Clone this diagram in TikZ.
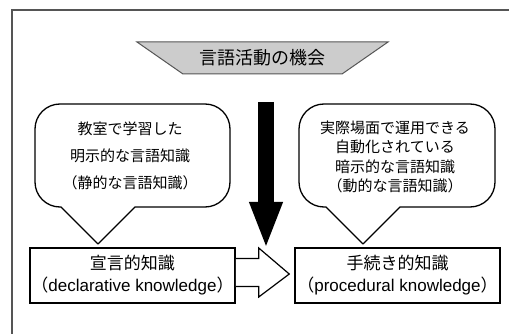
\documentclass[tikz,border=0pt]{standalone}
\usepackage{fontspec}
\setmainfont{Liberation Sans}
\newfontfamily\jp{Noto Sans CJK JP}
\usetikzlibrary{arrows.meta,calc}
\definecolor{framegray}{HTML}{555555}
\definecolor{bannerfill}{HTML}{CCCCCC}
\definecolor{bannerline}{HTML}{555555}
\begin{document}
\begin{tikzpicture}[x=1pt,y=-1pt,
  frameline/.style={draw=framegray, line width=1.5pt},
  bubble/.style={draw=black, line width=1.3pt, fill=white, line join=round},
  bubbletext/.style={align=center, inner sep=0pt},
  kbox/.style={draw=black, line width=1.5pt, fill=white, minimum width=205pt, minimum height=55pt,
    inner sep=0pt, align=center, font=\fontsize{17}{22}\selectfont},
  hollowarrow/.style={draw=black, line width=1.2pt, fill=white, line join=miter},
  bigarrow/.style={line width=16pt, -{Triangle[length=47pt,width=30pt]}}
 ]
\useasboundingbox (0,0) rectangle (509,334);
% frame
\draw[frameline] (12,334) -- (12,10) -- (509,10);
% banner
\draw[fill=bannerfill, draw=bannerline, line width=1pt] (137,42) -- (388,42) -- (342,74) -- (183,74) -- cycle;
\node[inner sep=0pt, font={\jp\fontsize{18}{20}\selectfont}] (banner) at (262,58) {言語活動の機会};
% big black arrow
\coordinate (atop) at (266,102);
\coordinate (atip) at (266,249);
\draw[bigarrow] (atop) -- (atip);
% left bubble
\draw[bubble] (61,207) -- (98,244) -- (135,207) -- (205,207)
  arc[start angle=90, end angle=0, radius=25] -- (230,129)
  arc[start angle=0, end angle=-90, radius=25] -- (60,104)
  arc[start angle=-90, end angle=-180, radius=25] -- (35,182)
  arc[start angle=180, end angle=90, radius=25] -- cycle;
\node[bubbletext, font={\jp\fontsize{15}{27}\selectfont}] (ltext) at (130,155.5)
  {教室で学習した\\明示的な言語知識\\（静的な言語知識）};
% right bubble
\draw[bubble] (326,207) -- (363,244) -- (400,207) -- (470,207)
  arc[start angle=90, end angle=0, radius=25] -- (495,129)
  arc[start angle=0, end angle=-90, radius=25] -- (324,104)
  arc[start angle=-90, end angle=-180, radius=25] -- (299,182)
  arc[start angle=180, end angle=90, radius=25] -- cycle;
\node[bubbletext, font={\jp\fontsize{15}{19.3}\selectfont}] (rtext) at (395,157)
  {実際場面で運用できる\\自動化されている\\暗示的な言語知識\\（動的な言語知識）};
% knowledge boxes
\node[kbox] (decl) at (132.5,275.5) {{\jp 宣言的知識}\\{\jp （}declarative knowledge{\jp ）}};
\node[kbox] (proc) at (397.5,275.5) {{\jp 手続き的知識}\\{\jp （}procedural knowledge{\jp ）}};
% hollow arrow from decl to proc
\draw[hollowarrow] ($(decl.east)+(0,-17)$) -- ($(decl.east)+(23,-17)$) -- ($(decl.east)+(23,-27.5)$)
  -- ($(proc.west)+(-5,-1.5)$) -- ($(decl.east)+(23,21.5)$) -- ($(decl.east)+(23,11)$) -- ($(decl.east)+(0,11)$);
\end{tikzpicture}
\end{document}
